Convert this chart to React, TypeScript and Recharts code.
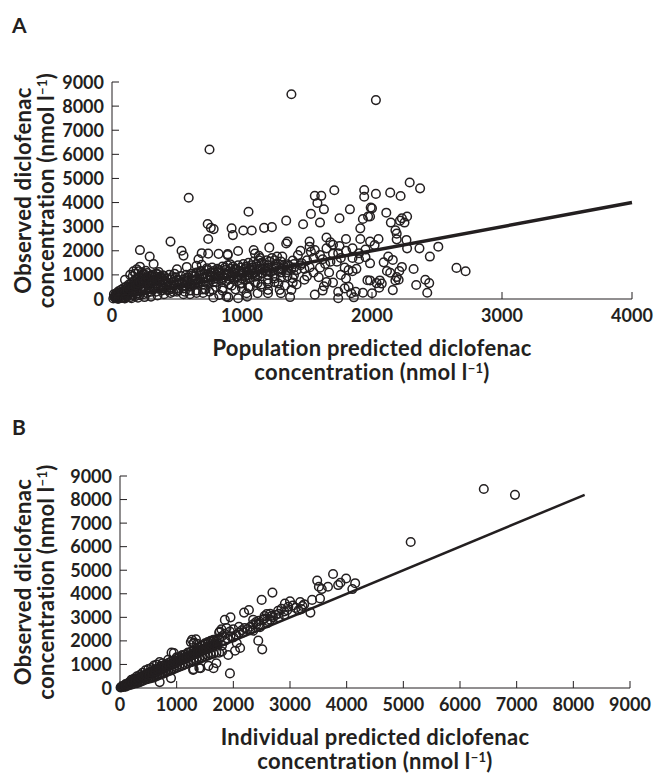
import { ScatterChart, Scatter, XAxis, YAxis, ReferenceLine } from 'recharts';

// Panel A: population predicted vs observed (nmol/l)
const popPred = [
  10, 20, 30, 40, 50, 60, 70, 80, 90, 100, 110, 120, 130, 140, 150, 160, 170, 180, 190, 200, 210, 220, 230, 240, 250, 260, 270, 280, 290, 300,
  15, 25, 35, 45, 55, 65, 75, 85, 95, 105, 115, 125, 135, 145, 155, 165, 175, 185, 195, 205, 215, 225, 235, 245, 255, 265, 275, 285, 295,
  100, 140, 165, 190, 205, 240, 265, 305, 330, 370, 215, 290, 320, 215, 180, 160, 230, 260, 350, 390, 330, 280, 320, 355, 395, 435, 470, 510, 550, 600, 640,
  410, 450, 480, 520, 560, 620, 680, 720, 760, 800, 450, 535, 550, 665, 690, 740, 820, 890, 890, 970, 1090, 1100, 1130, 1210, 1270, 1310, 1430, 1460,
  500, 575, 650, 690, 680, 730, 780, 830, 870, 910, 945, 985, 1035, 1075, 1115, 1140, 935, 985, 1025, 1060, 1100, 1190, 1240, 1310, 1350, 1390,
  580, 620, 700, 760, 820, 880, 900, 950, 1000, 1050, 1150, 1200, 1250, 1300, 1350, 1400, 1450,
  500, 540, 600, 660, 700, 760, 800, 840, 880, 920, 960, 1000, 1040, 1080, 1120, 1160, 1200, 1260, 1300, 1320,
  780, 825, 775, 880, 895, 970, 1035, 1040, 1120, 1120, 1200, 1200, 1200, 1280, 1290, 1300, 1390, 1390, 1380, 1370,
  700, 650, 600, 560, 720, 850, 920, 1000, 1060, 1150, 1250, 1330, 1420, 1480, 1500,
  736, 760, 782, 740, 920, 930, 1010, 1075, 1170, 1230, 1340, 1340, 1350, 1470, 1530, 1520, 1520, 1530, 1600, 1560, 1610, 1580, 1630, 1710,
  1750, 1800, 1910, 1910, 1830, 1930, 1970, 1990, 1940, 1940, 2030, 1050, 590, 750, 1380, 2030,
  2290, 2370, 2140, 2220, 2000, 1985, 2110, 2270, 2145, 2215, 2250, 2230, 2180, 2190, 2050, 2020, 1985, 2190, 2265, 2270, 2365, 2510, 2445,
  2650, 2720, 2320, 2125, 2160, 2090, 2115, 2140, 2230, 2210, 2190, 2205, 2180, 2060, 2075, 2055, 2035, 2000, 2160, 2340, 2410, 2440, 2425, 1985, 1985,
  1650, 1680, 1560, 1600, 1700, 1730, 1760, 1740, 1790, 1820, 1850, 1880, 1600, 1640, 1670, 1680, 1520, 1560, 1620, 1630, 1700, 1740, 1740,
  1790, 1820, 1840, 1860, 1930, 1965, 1875, 1550, 1590, 1650, 1760, 1800, 1850, 1900, 1950, 1900, 1950, 1850, 1800, 1750, 1700, 1650, 1620,
  1550, 1500, 1450, 1420, 1480,
  320, 340, 360, 380, 400, 420, 440, 460, 480, 500, 520, 540, 560, 580, 600, 620, 640, 660, 680, 700, 720, 740, 760, 780, 800, 820, 840, 860, 880, 900,
  920, 940, 960, 980, 1000, 1020, 1040, 1060, 1080, 1100, 1120, 1140, 1160, 1180, 1200, 1220, 1240, 1260, 1280, 1300, 1320, 1340, 1360, 1380, 1400,
  330, 350, 370, 390, 410, 430, 450, 470, 490, 510, 530, 550, 570, 590, 610, 630, 650, 670, 690, 710, 730, 750, 770, 790, 810, 830, 850, 870, 890, 910,
  930, 950, 970, 990, 1010, 1030, 1050, 1070, 1090, 1110, 1130, 1150, 1170, 1190, 1210, 1230, 1250,
  20, 30, 40, 50, 60, 70, 80, 90, 100, 110, 120, 130, 140, 150, 160, 170, 180, 190, 200, 210, 220, 230, 240, 250, 260, 270, 280, 290, 300, 310,
  320, 330, 340, 350, 360, 370, 380, 390, 400, 420, 440, 460, 480,
  50, 100, 150, 200, 250, 300, 350, 400, 450, 500, 550, 600, 650, 700, 750, 800, 850, 900, 950, 1000, 1050, 1100, 1150, 1200, 1250, 1300, 1350, 1400,
];
const popObs = [
  20, 60, 30, 90, 50, 120, 40, 150, 90, 60, 180, 120, 220, 80, 260, 170, 310, 120, 380, 240, 160, 420, 300, 200, 500, 360, 250, 560, 420, 300,
  200, 140, 240, 10, 170, 260, 210, 320, 30, 400, 280, 350, 450, 520, 380, 600, 470, 650, 540, 720, 600, 780, 680, 850, 720, 900, 640, 800, 700,
  800, 1000, 1150, 1230, 1150, 1000, 860, 1000, 930, 930, 2030, 1760, 1450, 1340, 1050, 950, 1100, 1170, 1020, 980, 750, 700, 650, 510, 440, 370, 300, 370, 440, 510, 620,
  600, 480, 560, 620, 700, 760, 820, 900, 950, 1000, 2380, 2000, 1800, 1650, 1900, 1880, 1870, 1860, 1820, 1990, 2030, 1880, 1790, 2130, 1760, 1760, 1820, 1480,
  1230, 1330, 1380, 1420, 1160, 1270, 1160, 1090, 1300, 1440, 1090, 1160, 1270, 1160, 1160, 1700, 800, 640, 800, 870, 930, 1160, 1300, 1270, 1440, 1590,
  900, 980, 1050, 1100, 1200, 1000, 1150, 1250, 1050, 1000, 1050, 1000, 950, 1100, 1200, 1300, 1400,
  800, 650, 600, 700, 600, 800, 700, 850, 750, 900, 950, 850, 1100, 1300, 1350, 1250, 1400, 1450, 1550, 1400,
  60, 170, 380, 100, 70, 30, 240, 100, 660, 240, 640, 380, 240, 640, 380, 240, 860, 680, 380, 80,
  250, 350, 200, 300, 400, 450, 550, 450, 500, 500, 700, 550, 600, 800, 950,
  3110, 2950, 2900, 2490, 2930, 2650, 2840, 2840, 2950, 2980, 3250, 2300, 2380, 3100, 3530, 2380, 2170, 1960, 3170, 4280, 4280, 3980, 3720, 4510,
  3350, 2490, 2930, 2490, 3720, 3320, 3420, 3790, 4520, 4240, 4360, 3620, 4200, 6200, 8490, 8250,
  4830, 4590, 4410, 4270, 3760, 3420, 3580, 3420, 3170, 3250, 3170, 3350, 2850, 2710, 2490, 2240, 2380, 2475, 2450, 2100, 2100, 2170, 1760,
  1290, 1150, 1245, 1760, 1620, 1520, 1160, 1090, 1330, 1160, 910, 800, 770, 770, 640, 470, 660, 240, 370, 580, 800, 660, 260, 1480, 770,
  2550, 2350, 2030, 1820, 1870, 1550, 1700, 1900, 1300, 1200, 1150, 1250, 1300, 1450, 1100, 1550, 1310, 180, 350, 530, 680, 300, 30,
  440, 510, 240, 70, 260, 780, 300, 1100, 900, 700, 1000, 850, 1700, 1650, 1730, 1900, 2050, 2100, 2000, 2200, 2250, 2100, 1650,
  1700, 1600, 2000, 1200, 1250,
  400, 300, 450, 350, 500, 380, 560, 420, 600, 450, 680, 500, 560, 740, 650, 560, 800, 620, 720, 880, 680, 760, 900, 700, 850, 950, 760, 900, 1050, 820,
  980, 1100, 880, 1000, 1150, 920, 980, 1200, 1050, 1100, 950, 1250, 1080, 1150, 1300, 1100, 1200, 1350, 1150, 1250, 1320, 1100, 1380, 1250, 1450,
  520, 600, 700, 560, 760, 650, 820, 700, 900, 780, 950, 820, 1000, 880, 1050, 930, 1100, 980, 1150, 1050, 1200, 1000, 1300, 1100, 1250, 1150, 1350, 1200, 1400, 1250,
  1350, 1200, 1400, 1300, 1450, 1350, 1500, 1400, 1550, 1450, 1600, 1500, 1450, 1600, 1550, 1700, 1600,
  100, 180, 250, 320, 80, 380, 300, 450, 250, 520, 350, 600, 420, 680, 500, 750, 560, 820, 640, 900, 700, 960, 760, 1020, 820, 1080, 880, 600, 940, 700,
  1000, 800, 1060, 850, 1120, 780, 900, 820, 950, 850, 1000, 900, 1050,
  10, 20, 30, 50, 80, 100, 150, 200, 250, 300, 200, 350, 250, 400, 300, 500, 350, 600, 400, 650, 500, 700, 600, 800, 850, 900, 950, 1000,
];

// Panel B: individual predicted vs observed (nmol/l)
const indPred = [
  10, 20, 30, 40, 50, 60, 70, 80, 90, 100, 110, 120, 130, 140, 150, 160, 170, 180, 190, 200, 220, 240, 260, 280, 300, 320, 340, 360, 380, 400,
  420, 440, 460, 480, 500, 520, 540, 560, 580, 600, 620, 640, 660, 680, 700, 720, 740, 760, 780, 800, 820, 840, 860, 880, 900, 920, 940, 960, 980, 1000,
  1020, 1040, 1060, 1080, 1100, 1120, 1140, 1160, 1180, 1200, 1220, 1240, 1260, 1280, 1300, 1320, 1340, 1360, 1380, 1400, 1420, 1440, 1460, 1480, 1500,
  1520, 1540, 1560, 1580, 1600, 1620, 1640, 1660, 1680, 1700,
  300, 350, 400, 450, 500, 550, 600, 650, 700, 700, 750, 800, 850, 900, 900, 950, 1000, 1050, 1100, 1150, 1200, 1250, 1300, 1300, 1350, 1400, 1400,
  1450, 1500, 1550, 1600, 1650, 1700, 1560, 1420, 1290, 1750, 1800, 200, 250, 300, 350, 400, 450, 500, 550, 600, 650, 700, 750, 850, 950, 910,
  1000, 1100, 1200, 1250, 1270, 1300, 1340, 1305, 1360, 1400, 1450, 1500, 1550, 1600, 1650, 1700, 1750,
  1760, 1790, 1850, 1940, 2000, 1850, 1950, 2060, 2120, 2030, 1910, 1940, 1800, 1850, 1900, 1950, 2000, 2050, 2100, 2150, 2175, 2190, 2275, 2350,
  2410, 2470, 2440, 2510, 2530, 2590, 2680, 2500, 2690, 2790, 2850, 2910, 2970, 3000, 3180, 3220, 3360, 3390, 3530, 2250, 2300, 2350, 2400, 2450,
  2550, 2600, 2650, 2700, 2750, 2800, 2900, 3100, 3200, 3250,
  3480, 3510, 3670, 3760, 3850, 3890, 3990, 4100, 4150, 3560, 5130, 6420, 6970,
  100, 100, 150, 150, 200, 200, 250, 250, 300, 300, 350, 350, 400, 400, 450, 450, 500, 500, 550, 550, 600, 600, 650, 650, 700, 700, 750, 750, 800, 800,
  850, 850, 900, 900, 950, 950, 1000, 1000, 1050, 1050, 1100, 1100, 1150, 1150, 1200, 1200, 1250, 1250, 1300, 1300, 1350, 1350, 1400, 1400, 1450, 1450,
  1500, 1500, 1550, 1550, 1600, 1600, 1650, 1650, 1700, 1700,
  125, 175, 225, 275, 325, 375, 425, 475, 525, 575, 625, 675, 725, 775, 825, 875, 925, 975, 1025, 1075, 1125, 1175, 1225, 1275, 1325, 1375, 1425, 1475,
  1525, 1575, 1625, 1675, 1725,
  1800, 1750, 1880, 2050, 2100, 2200, 2300, 2350, 2450, 2550, 2650, 2600, 2800, 2900, 2950, 3050, 3150,
];
const indObs = [
  20, 40, 30, 60, 70, 50, 90, 100, 80, 130, 120, 150, 140, 170, 160, 200, 190, 220, 210, 250, 240, 290, 280, 330, 320, 380, 360, 420, 400, 470,
  440, 510, 500, 560, 530, 600, 580, 640, 620, 690, 660, 740, 700, 780, 760, 830, 800, 870, 840, 920, 880, 960, 930, 1000, 970, 1050, 1010, 1090, 1060, 1130,
  1100, 1180, 1150, 1220, 1190, 1260, 1230, 1300, 1280, 1350, 1320, 1400, 1370, 1440, 1410, 1490, 1460, 1530, 1500, 1570, 1550, 1620, 1590, 1660, 1640,
  1700, 1680, 1740, 1720, 1780, 1760, 1820, 1800, 1860, 1850,
  200, 250, 300, 350, 380, 420, 450, 500, 250, 550, 600, 650, 700, 420, 750, 800, 850, 900, 950, 1000, 1050, 1100, 800, 1150, 1200, 850, 1250,
  1300, 1350, 1400, 1450, 840, 1050, 940, 840, 770, 1500, 1550, 350, 400, 500, 550, 650, 750, 800, 850, 950, 1000, 1100, 1050, 1200, 1480, 1500,
  1300, 1400, 1500, 1950, 2050, 1900, 2070, 1925, 1880, 1700, 1800, 1900, 1950, 2000, 2050, 1950, 2100,
  2400, 2490, 2300, 2400, 2490, 2890, 3000, 1910, 1700, 1580, 1400, 620, 1800, 2000, 2100, 2200, 2150, 2250, 2350, 2450, 2360, 3200, 3310, 2430,
  2720, 2580, 2010, 1640, 2910, 3140, 3070, 3740, 4050, 3280, 3360, 3580, 3450, 3680, 3650, 3480, 3200, 3740, 3800, 2500, 2600, 2700, 2800, 2850,
  2950, 2850, 2900, 3000, 3100, 3150, 3250, 3400, 3350, 3550,
  4560, 4300, 4300, 4840, 4370, 4470, 4650, 4200, 4450, 4200, 6200, 8450, 8200,
  60, 170, 110, 220, 140, 290, 180, 330, 240, 400, 280, 460, 330, 520, 380, 580, 420, 640, 470, 700, 520, 760, 560, 820, 610, 880, 650, 940, 700, 1000,
  740, 1060, 790, 1120, 830, 1180, 880, 1240, 920, 1300, 970, 1360, 1010, 1420, 1060, 1480, 1100, 1540, 1150, 1600, 1190, 1660, 1240, 1720, 1280, 1780,
  1330, 1840, 1370, 1900, 1420, 1960, 1460, 2000, 1510, 2040,
  150, 200, 260, 320, 350, 430, 480, 530, 580, 650, 700, 760, 810, 870, 920, 980, 1030, 1090, 1140, 1200, 1250, 1310, 1360, 1420, 1470, 1530, 1580, 1640,
  1690, 1750, 1800, 1850, 1900,
  2200, 2350, 2550, 2250, 2600, 2550, 2450, 2900, 2700, 3050, 3150, 2750, 3000, 3100, 3300, 3500, 3300,
];

const lineA = [0, 4000];
const lineB = [0, 8200];
const xTicksA = [0, 1000, 2000, 3000, 4000];
const xTicksB = [0, 1000, 2000, 3000, 4000, 5000, 6000, 7000, 8000, 9000];
const yTicks = [0, 1000, 2000, 3000, 4000, 5000, 6000, 7000, 8000, 9000];

const yTitle = ['Observed diclofenac', 'concentration (nmol l'];
const xTitleA = ['Population predicted diclofenac', 'concentration (nmol l'];
const xTitleB = ['Individual predicted diclofenac', 'concentration (nmol l'];

const INK = '#231f20';
const FONT = 'Lato, "Open Sans", sans-serif';

const dataA = popPred.map((x, i) => ({ x, y: popObs[i] }));
const dataB = indPred.map((x, i) => ({ x, y: indObs[i] }));

function Ring(props: any) {
  return <circle cx={props.cx} cy={props.cy} r={4.3} fill="none" stroke={INK} strokeWidth={1.5} />;
}

function YTick({ x, y, payload }: any) {
  return (
    <g>
      <line x1={x + 8} x2={x + 15} y1={y} y2={y} stroke={INK} strokeWidth={1} />
      <text x={x} y={y} dy={6.5} textAnchor="end" fontSize={18} fontWeight={700} fontFamily={FONT} fill={INK}>
        {payload.value}
      </text>
    </g>
  );
}

function XTick({ x, y, payload }: any) {
  return (
    <g>
      <line x1={x} x2={x} y1={y} y2={y - 7} stroke={INK} strokeWidth={1} />
      <text x={x} y={y} dy={23} textAnchor="middle" fontSize={18} fontWeight={700} fontFamily={FONT} fill={INK}>
        {payload.value}
      </text>
    </g>
  );
}

// second line ends with l^-1 )
function Unit({ text }: { text: string }) {
  return (
    <>
      {text}
      <tspan dy={-7} fontSize={13}>−1</tspan>
      <tspan dy={7}>)</tspan>
    </>
  );
}

function XTitle({ viewBox, lines }: any) {
  const cx = viewBox.x + viewBox.width / 2;
  const top = viewBox.y;
  return (
    <g fontSize={22} fontWeight={700} fontFamily={FONT} fill={INK} textAnchor="middle" letterSpacing={0.3}>
      <text x={cx} y={top + 57}>{lines[0]}</text>
      <text x={cx} y={top + 81}><Unit text={lines[1]} /></text>
    </g>
  );
}

function YTitle({ viewBox }: any) {
  const cy = viewBox.y + viewBox.height / 2;
  return (
    <g fontSize={22} fontWeight={700} fontFamily={FONT} fill={INK} textAnchor="middle" letterSpacing={0.3}>
      <text x={31} y={cy} transform={`rotate(-90, 31, ${cy})`}>{yTitle[0]}</text>
      <text x={54} y={cy} transform={`rotate(-90, 54, ${cy})`}><Unit text={yTitle[1]} /></text>
    </g>
  );
}

function Panel({ data, xMax, xTicks, xTitle, line, lineWidth, margin, yWidth }: any) {
  return (
    <ScatterChart width={654} height={390} margin={margin}>
      <XAxis
        type="number"
        dataKey="x"
        domain={[0, xMax]}
        ticks={xTicks}
        interval={0}
        tickSize={0}
        tickMargin={0}
        tick={<XTick />}
        axisLine={{ stroke: INK, strokeWidth: 1 }}
        height={30}
        label={{ content: (p: any) => <XTitle {...p} lines={xTitle} /> }}
      />
      <YAxis
        type="number"
        dataKey="y"
        domain={[0, 9000]}
        ticks={yTicks}
        interval={0}
        tickSize={0}
        tickMargin={8}
        tick={<YTick />}
        axisLine={{ stroke: INK, strokeWidth: 1 }}
        width={yWidth}
        label={{ content: (p: any) => <YTitle {...p} /> }}
      />
      <Scatter data={data} shape={Ring} isAnimationActive={false} />
      <ReferenceLine
        segment={[{ x: line[0], y: line[0] }, { x: line[1], y: line[1] }]}
        stroke={INK}
        strokeWidth={lineWidth}
      />
    </ScatterChart>
  );
}

export default function App() {
  return (
    <div style={{ position: 'absolute', left: 0, top: 0, width: 654, height: 773, background: '#fff', fontFamily: FONT }}>
      <div style={{ position: 'absolute', left: 12, top: 12, fontSize: 21, fontWeight: 700, color: INK }}>A</div>
      <div style={{ position: 'absolute', left: 12, top: 414, fontSize: 21, fontWeight: 700, color: INK }}>B</div>
      <div style={{ position: 'absolute', left: 0, top: 0 }}>
        <Panel
          data={dataA}
          xMax={4000}
          xTicks={xTicksA}
          xTitle={xTitleA}
          line={lineA}
          lineWidth={3.5}
          margin={{ top: 82, right: 22, bottom: 61, left: 0 }}
          yWidth={112}
        />
      </div>
      <div style={{ position: 'absolute', left: 0, top: 383 }}>
        <Panel
          data={dataB}
          xMax={9000}
          xTicks={xTicksB}
          xTitle={xTitleB}
          line={lineB}
          lineWidth={2.5}
          margin={{ top: 93, right: 24, bottom: 55, left: 0 }}
          yWidth={120}
        />
      </div>
    </div>
  );
}
